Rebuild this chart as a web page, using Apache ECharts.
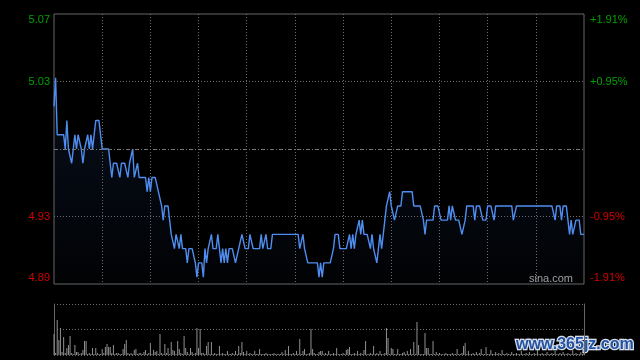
<!DOCTYPE html>
<html><head><meta charset="utf-8">
<script src="https://cdn.jsdelivr.net/npm/echarts@6/dist/echarts.min.js"></script>
<style>html,body{margin:0;padding:0;background:#000;}#c{width:640px;height:360px;}</style>
</head><body><div id="c"></div>
<script>
const preClose = 4.98;
const leftLabels = ['4.89', '4.93', '', '5.03', '5.07'];
const rightLabels = ['-1.91%', '-0.95%', '', '+0.95%', '+1.91%'];
const prices = [
5.01,5.03,4.99,4.99,4.99,4.99,4.99,4.98,5.00,4.98,
4.98,4.97,4.98,4.99,4.98,4.99,4.99,4.98,4.97,4.98,
4.98,4.99,4.98,4.99,4.98,4.98,5.00,5.00,5.00,4.99,
4.98,4.98,4.98,4.98,4.98,4.98,4.96,4.97,4.97,4.97,
4.97,4.96,4.97,4.97,4.97,4.97,4.96,4.97,4.97,4.98,
4.96,4.96,4.97,4.96,4.96,4.96,4.96,4.96,4.95,4.96,
4.95,4.96,4.96,4.96,4.96,4.95,4.95,4.94,4.93,4.94,
4.94,4.94,4.93,4.92,4.92,4.91,4.92,4.92,4.91,4.92,
4.91,4.91,4.91,4.90,4.91,4.91,4.91,4.91,4.90,4.89,
4.90,4.90,4.90,4.89,4.91,4.90,4.91,4.91,4.92,4.91,
4.91,4.91,4.92,4.91,4.90,4.91,4.90,4.91,4.90,4.91,
4.91,4.91,4.91,4.90,4.90,4.91,4.91,4.92,4.92,4.91,
4.91,4.91,4.92,4.92,4.91,4.91,4.91,4.91,4.91,4.92,
4.91,4.91,4.92,4.91,4.91,4.91,4.92,4.92,4.92,4.92,
4.92,4.92,4.92,4.92,4.92,4.92,4.92,4.92,4.92,4.92,
4.92,4.92,4.92,4.91,4.91,4.92,4.91,4.91,4.90,4.90,
4.90,4.90,4.90,4.90,4.90,4.89,4.90,4.89,4.90,4.90,
4.90,4.90,4.90,4.90,4.91,4.92,4.92,4.92,4.91,4.91,
4.91,4.91,4.91,4.91,4.92,4.91,4.92,4.91,4.92,4.92,
4.93,4.92,4.93,4.92,4.92,4.92,4.92,4.91,4.92,4.91,
4.91,4.90,4.91,4.92,4.91,4.92,4.92,4.94,4.94,4.95,
4.94,4.94,4.93,4.93,4.94,4.94,4.94,4.95,4.95,4.95,
4.95,4.95,4.95,4.95,4.94,4.94,4.94,4.94,4.94,4.94,
4.93,4.92,4.93,4.93,4.93,4.93,4.93,4.94,4.94,4.94,
4.94,4.93,4.93,4.93,4.93,4.93,4.94,4.93,4.94,4.94,
4.93,4.93,4.93,4.93,4.92,4.92,4.93,4.94,4.94,4.94,
4.94,4.94,4.93,4.94,4.94,4.94,4.94,4.93,4.93,4.93,
4.94,4.94,4.94,4.94,4.93,4.94,4.94,4.94,4.94,4.94,
4.94,4.94,4.94,4.94,4.94,4.94,4.93,4.93,4.94,4.94,
4.94,4.94,4.94,4.94,4.94,4.94,4.94,4.94,4.94,4.94,
4.94,4.94,4.94,4.94,4.94,4.94,4.94,4.94,4.94,4.94,
4.94,4.94,4.93,4.94,4.94,4.94,4.93,4.94,4.94,4.94,
4.94,4.92,4.93,4.92,4.92,4.93,4.93,4.93,4.92,4.92,
4.92
];
const volumes = [
21,2,35,15,27,3,18,2,7,10,
19,2,1,10,3,3,1,2,5,14,
14,1,2,1,7,1,7,2,1,1,
6,2,8,11,8,8,2,10,1,2,
2,1,1,6,11,15,2,1,2,1,
5,6,1,2,2,1,3,5,1,2,
12,1,5,3,4,1,21,2,1,11,
2,7,1,13,5,4,1,14,6,2,
1,19,7,3,1,7,3,1,2,27,
7,26,2,2,1,9,13,1,13,1,
2,1,1,9,1,2,1,1,4,1,
1,2,1,4,1,9,2,13,3,1,
4,1,2,1,1,4,1,1,6,1,
1,1,2,1,1,1,1,2,1,1,
1,1,3,1,5,1,9,1,1,2,
1,4,1,16,1,4,6,1,1,2,
26,6,2,1,1,3,4,4,1,2,
1,4,1,1,2,1,7,1,1,1,
2,1,5,6,8,1,1,2,1,4,
1,2,1,5,14,1,1,2,1,9,
1,2,1,4,1,1,2,27,17,1,
7,6,1,1,6,1,1,2,3,1,
4,1,6,1,13,1,33,10,1,1,
1,22,7,7,1,1,14,1,3,1,
2,1,1,1,2,1,1,1,2,1,
1,6,1,1,2,9,12,1,4,1,
1,2,1,3,1,2,6,1,1,8,
1,1,5,1,1,3,1,2,1,5,
1,1,2,1,1,3,1,1,2,1,
1,4,1,1,2,1,3,1,1,2,
1,5,1,1,2,1,1,3,1,1,
2,1,4,1,1,2,1,3,1,1,
2,1,1,5,1,2,1,1,3,1,
2
];
const volMax = 51;

function hm(m) { const h = Math.floor(m / 60), mm = m % 60; return (h < 10 ? '0' : '') + h + ':' + (mm < 10 ? '0' : '') + mm; }
const times = [];
for (let m = 570; m <= 720; m++) times.push(hm(m));
for (let m = 781; m <= 960; m++) times.push(hm(m));

const yStep = preClose / 105;
const yMin = yStep * 103;
const yMax = yStep * 107;
function lblIndex(v) { return Math.round((v - preClose) / yStep) + 2; }
const GREEN = '#00a000', RED = '#d40000';
const font = '"Liberation Sans", Arial, sans-serif';
const frame = '#666666';
const dotted = '#6e6e6e';
const styleKeys = ['rb', 'r', '', 'g', 'gt'];
function richLabel(labels) {
  return function (v) {
    const k = lblIndex(v);
    const t = labels[k];
    if (!t) return '';
    return '{' + styleKeys[k] + '|' + t + '}';
  };
}
const rich = {
  rb: { color: RED, fontSize: 11, fontFamily: font, padding: [0, 0, 12, 0] },
  r: { color: RED, fontSize: 11, fontFamily: font },
  g: { color: GREEN, fontSize: 11, fontFamily: font },
  gt: { color: GREEN, fontSize: 11, fontFamily: font, padding: [12, 0, 0, 0] }
};

const chart = echarts.init(document.getElementById('c'));
chart.setOption({
  animation: false,
  backgroundColor: '#000',
  grid: [
    { left: 54, right: 56, top: 14, height: 270, show: true, borderColor: frame, borderWidth: 1, backgroundColor: 'transparent' },
    { left: 54, right: 56, top: 304, height: 51 }
  ],
  xAxis: [
    { type: 'category', gridIndex: 0, data: times, boundaryGap: false,
      axisLine: { show: false }, axisTick: { show: false }, axisLabel: { show: false },
      splitLine: { show: true, interval: function (i) { return i > 0 && i < 330 && i % 30 === 0; },
        lineStyle: { color: dotted, type: [1, 2], width: 1 } } },
    { type: 'category', gridIndex: 1, data: times, boundaryGap: false,
      axisLine: { show: false }, axisTick: { show: false }, axisLabel: { show: false }, splitLine: { show: false } }
  ],
  yAxis: [
    { type: 'value', gridIndex: 0, min: yMin, max: yMax, interval: yStep, position: 'left',
      axisLine: { show: false }, axisTick: { show: false },
      axisLabel: { margin: 4, fontSize: 11, fontFamily: font, formatter: richLabel(leftLabels), rich: rich },
      splitLine: { show: true, lineStyle: { color: ['rgba(0,0,0,0)', dotted, 'rgba(0,0,0,0)', dotted, 'rgba(0,0,0,0)'], type: [1, 2], width: 1 } } },
    { type: 'value', gridIndex: 0, min: yMin, max: yMax, interval: yStep, position: 'right',
      axisLine: { show: false }, axisTick: { show: false },
      axisLabel: { margin: 6, fontSize: 11, fontFamily: font, formatter: richLabel(rightLabels), rich: rich },
      splitLine: { show: false } },
    { type: 'value', gridIndex: 1, min: 0, max: volMax, interval: volMax / 2, position: 'left',
      axisLine: { show: true, lineStyle: { color: frame, width: 1 } }, axisTick: { show: false }, axisLabel: { show: false },
      splitLine: { show: true, lineStyle: { color: dotted, type: [1, 2], width: 1 } } },
    { type: 'value', gridIndex: 1, min: 0, max: volMax, interval: volMax / 2, position: 'right',
      axisLine: { show: true, lineStyle: { color: frame, width: 1 } }, axisTick: { show: false }, axisLabel: { show: false },
      splitLine: { show: false } }
  ],
  series: [
    { type: 'line', xAxisIndex: 0, yAxisIndex: 0, data: prices, symbol: 'none', silent: true,
      lineStyle: { color: '#4f8ef0', width: 1.4 },
      areaStyle: { color: new echarts.graphic.LinearGradient(0, 0, 0, 1, [
        { offset: 0, color: 'rgba(40,80,150,0.28)' }, { offset: 1, color: 'rgba(40,80,150,0.04)' }]) },
      markLine: { silent: true, symbol: 'none', label: { show: false },
        lineStyle: { color: '#777', type: [4, 2, 1, 2], width: 1 },
        data: [{ yAxis: preClose }] } },
    { type: 'bar', xAxisIndex: 1, yAxisIndex: 2, data: volumes, barWidth: 1, silent: true,
      itemStyle: { color: '#909090' } }
  ],
  graphic: [
    { type: 'text', x: 573, y: 279, silent: true,
      style: { text: 'sina.com', align: 'right', verticalAlign: 'middle', fill: '#a0a0a0', font: '11px ' + font } },
    { type: 'text', x: 516, y: 345, silent: true,
      style: { text: 'www.365jz.com', align: 'left', verticalAlign: 'middle', fill: '#2352a0',
        stroke: '#d8e0ee', lineWidth: 2.5, font: 'bold 16px ' + font } }
  ]
});
</script>
</body></html>
